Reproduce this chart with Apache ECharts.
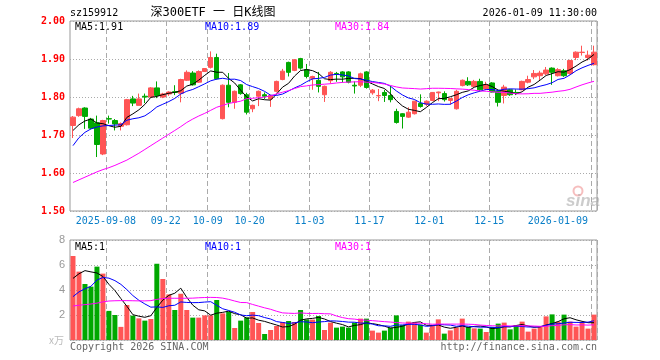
<!DOCTYPE html>
<html><head><meta charset="utf-8">
<script src="https://cdn.jsdelivr.net/npm/echarts@6/dist/echarts.min.js"></script>
<style>html,body{margin:0;padding:0;background:#fff}#c{width:660px;height:360px}</style>
</head><body><div id="c"></div>
<script>
const categories = [
'2025-08-29','2025-09-01','2025-09-02','2025-09-03','2025-09-04','2025-09-05',
'2025-09-08','2025-09-09','2025-09-10','2025-09-11','2025-09-12',
'2025-09-15','2025-09-16','2025-09-17','2025-09-18','2025-09-19',
'2025-09-22','2025-09-23','2025-09-24','2025-09-25','2025-09-26','2025-09-29','2025-09-30',
'2025-10-09','2025-10-10','2025-10-13','2025-10-14','2025-10-15','2025-10-16','2025-10-17',
'2025-10-20','2025-10-21','2025-10-22','2025-10-23','2025-10-24',
'2025-10-27','2025-10-28','2025-10-29','2025-10-30','2025-10-31',
'2025-11-03','2025-11-04','2025-11-05','2025-11-06','2025-11-07',
'2025-11-10','2025-11-11','2025-11-12','2025-11-13','2025-11-14',
'2025-11-17','2025-11-18','2025-11-19','2025-11-20','2025-11-21',
'2025-11-24','2025-11-25','2025-11-26','2025-11-27','2025-11-28',
'2025-12-01','2025-12-02','2025-12-03','2025-12-04','2025-12-05',
'2025-12-08','2025-12-09','2025-12-10','2025-12-11','2025-12-12',
'2025-12-15','2025-12-16','2025-12-17','2025-12-18','2025-12-19',
'2025-12-22','2025-12-23','2025-12-24','2025-12-25','2025-12-26',
'2025-12-29','2025-12-30','2025-12-31',
'2026-01-05','2026-01-06','2026-01-07','2026-01-08','2026-01-09'];

const opens = [1.725,1.751,1.771,1.742,1.732,1.650,1.743,1.738,1.723,1.727,
1.795,1.778,1.802,1.800,1.824,1.800,1.808,1.814,1.810,1.844,
1.863,1.839,1.867,1.878,1.904,1.743,1.831,1.786,1.832,1.806,
1.769,1.802,1.806,1.795,1.815,1.846,1.891,1.870,1.901,1.872,
1.849,1.844,1.806,1.843,1.862,1.866,1.866,1.831,1.831,1.866,
1.811,1.803,1.812,1.804,1.762,1.756,1.747,1.756,1.783,1.781,
1.791,1.811,1.809,1.791,1.769,1.830,1.841,1.828,1.841,1.821,
1.837,1.815,1.804,1.819,1.812,1.819,1.839,1.853,1.856,1.861,
1.876,1.856,1.869,1.862,1.904,1.917,1.904,1.885];
const closes = [1.747,1.769,1.749,1.718,1.675,1.738,1.742,1.729,1.730,1.793,
1.784,1.795,1.800,1.824,1.804,1.808,1.813,1.812,1.846,1.865,
1.832,1.867,1.875,1.904,1.848,1.831,1.786,1.815,1.809,1.760,
1.778,1.815,1.802,1.804,1.841,1.868,1.865,1.898,1.876,1.854,
1.854,1.828,1.828,1.865,1.860,1.853,1.839,1.829,1.861,1.825,
1.818,1.804,1.804,1.793,1.733,1.749,1.760,1.789,1.775,1.789,
1.812,1.813,1.793,1.796,1.815,1.844,1.832,1.841,1.819,1.832,
1.813,1.786,1.826,1.806,1.810,1.841,1.846,1.862,1.863,1.871,
1.865,1.872,1.856,1.896,1.918,1.918,1.910,1.918];
const lows = [1.692,1.748,1.716,1.715,1.642,1.647,1.730,1.712,1.712,1.725,
1.776,1.778,1.784,1.798,1.797,1.797,1.803,1.805,1.786,1.842,
1.830,1.837,1.866,1.875,1.846,1.741,1.773,1.769,1.806,1.754,
1.760,1.776,1.795,1.774,1.812,1.844,1.854,1.868,1.872,1.849,
1.819,1.812,1.787,1.835,1.840,1.838,1.836,1.809,1.826,1.822,
1.806,1.789,1.787,1.786,1.730,1.717,1.745,1.754,1.772,1.776,
1.789,1.789,1.788,1.780,1.767,1.828,1.829,1.826,1.815,1.819,
1.812,1.775,1.783,1.803,1.805,1.818,1.836,1.847,1.842,1.858,
1.832,1.854,1.853,1.859,1.897,1.909,1.896,1.883];
const highs = [1.750,1.772,1.773,1.745,1.751,1.740,1.751,1.742,1.733,1.795,
1.803,1.809,1.809,1.826,1.841,1.811,1.815,1.831,1.848,1.870,
1.868,1.870,1.876,1.920,1.914,1.833,1.863,1.817,1.834,1.811,
1.780,1.817,1.812,1.806,1.843,1.874,1.893,1.900,1.903,1.887,
1.856,1.866,1.830,1.868,1.866,1.868,1.868,1.841,1.864,1.868,
1.821,1.821,1.819,1.829,1.769,1.757,1.773,1.790,1.807,1.791,
1.813,1.814,1.815,1.797,1.819,1.846,1.852,1.845,1.848,1.840,
1.839,1.816,1.832,1.821,1.820,1.843,1.856,1.871,1.869,1.879,
1.878,1.876,1.874,1.898,1.920,1.935,1.922,1.935];
const volumes = [6.72,5.47,4.48,4.27,5.87,5.31,2.33,2.00,1.05,2.80,
1.95,1.73,1.55,1.68,6.10,4.88,3.65,2.40,3.70,2.40,
1.79,1.79,1.97,1.97,3.20,2.13,2.27,0.96,1.55,1.81,
2.24,1.36,0.48,0.80,1.12,1.44,1.52,1.44,2.40,1.65,
1.63,1.92,0.80,1.39,0.99,1.07,0.99,1.39,1.71,1.71,
0.75,0.59,0.75,0.99,1.97,1.20,1.47,1.39,1.23,0.59,
1.17,1.65,0.51,0.77,0.99,1.71,1.04,0.93,0.91,0.64,
1.04,1.31,1.39,0.85,1.20,1.47,0.67,0.91,1.04,1.89,
2.05,1.47,2.03,1.47,1.07,1.44,0.91,2.03];

const ma5Head = [1.712,1.727,1.737,1.742];
const ma10Head = [1.672,1.693,1.707,1.716,1.721,1.724,1.725,1.726,1.727];
const ma30Head = [1.575,1.582,1.589,1.596,1.603,1.609,1.614,1.620,1.627,1.634,
1.643,1.652,1.662,1.672,1.682,1.692,1.702,1.712,1.722,1.733,
1.742,1.750,1.757,1.765,1.773,1.778,1.783,1.786,1.789];
const volMa5Head = [4.93,5.30,5.55,5.45];
const volMa10Head = [3.47,3.85,4.10,4.30,4.80,5.00,4.95,4.75,4.45];
const volMa30Head = [2.72,2.78,2.83,2.88,2.95,3.05,3.12,3.14,3.15,3.15,
3.14,3.13,3.13,3.15,3.25,3.32,3.34,3.34,3.34,3.34,
3.35,3.38,3.40,3.41,3.40,3.35,3.25,3.12,3.00];

const labelDates = ['2025-09-08','2025-09-22','2025-10-09','2025-10-20','2025-11-03','2025-11-17','2025-12-01','2025-12-15','2026-01-09'];
const labelTexts = ['2025-09-08','09-22','10-09','10-20','11-03','11-17','12-01','12-15','2026-01-09'];

const UP = '#ff5555', DOWN = '#00a800';

function movingAvg(arr, n, head) {
  return arr.map((v, i) => {
    if (i < head.length) return head[i];
    let s = 0; for (let k = i - n + 1; k <= i; k++) s += arr[k];
    return +(s / n).toFixed(4);
  });
}

const candleData = opens.map((o, i) => [o, closes[i], lows[i], highs[i]]);
const volData = volumes.map((v, i) => ({value: v, itemStyle: {color: closes[i] >= opens[i] ? UP : DOWN}}));

const isLabel = (idx) => labelDates.indexOf(categories[idx]) >= 0;
const mono = '"DejaVu Sans Mono", monospace';

const chart = echarts.init(document.getElementById('c'), null, {renderer: 'canvas'});
const lineS = (name, data, color, xi) => ({
  name, type: 'line', data, xAxisIndex: xi, yAxisIndex: xi, showSymbol: false, symbol: 'none',
  lineStyle: {color, width: 1}, silent: true, z: 5, animation: false
});
const vsplit = {show: true, interval: (i) => isLabel(i), lineStyle: {color: '#aaa', type: [5, 3], width: 1}};

chart.setOption({
  animation: false,
  backgroundColor: '#fff',
  grid: [
    {left: 70, top: 21, width: 527, height: 190, show: true, borderColor: '#999', borderWidth: 1, backgroundColor: 'transparent'},
    {left: 70, top: 240, width: 527, height: 100, show: true, borderColor: '#999', borderWidth: 1, backgroundColor: 'transparent'}
  ],
  xAxis: [
    {type: 'category', data: categories, gridIndex: 0, boundaryGap: true,
     axisLine: {show: false}, axisTick: {show: false},
     axisLabel: {interval: (i) => isLabel(i), formatter: (v) => labelTexts[labelDates.indexOf(v)],
       color: '#0a7fc8', fontFamily: mono, fontSize: 10, margin: 5, padding: [0, 6, 0, 0], alignMaxLabel: 'right'},
     splitLine: vsplit},
    {type: 'category', data: categories, gridIndex: 1, boundaryGap: true,
     axisLine: {show: false}, axisTick: {show: false}, axisLabel: {show: false},
     splitLine: vsplit}
  ],
  yAxis: [
    {type: 'value', gridIndex: 0, min: 1.5, max: 2.0, interval: 0.1, position: 'left',
     axisLine: {show: false}, axisTick: {show: false},
     axisLabel: {color: '#ff0000', fontFamily: mono, fontSize: 10, fontWeight: 'bold', margin: 5, formatter: (v) => v.toFixed(2)},
     splitLine: {show: true, lineStyle: {color: '#aaa', type: [1, 2], width: 1}}},
    {type: 'value', gridIndex: 1, min: 0, max: 8, interval: 2, position: 'left',
     axisLine: {show: false}, axisTick: {show: false},
     axisLabel: {color: '#999', fontFamily: 'Liberation Sans, sans-serif', fontSize: 11, margin: 5, formatter: (v) => v === 0 ? '' : String(v)},
     splitLine: {show: true, lineStyle: {color: '#aaa', type: [1, 2], width: 1}}}
  ],
  series: [
    {name: 'K', type: 'candlestick', data: candleData, xAxisIndex: 0, yAxisIndex: 0, barWidth: 5,
     itemStyle: {color: UP, color0: DOWN, borderColor: UP, borderColor0: DOWN, borderWidth: 1}, silent: true},
    lineS('MA5', movingAvg(closes, 5, ma5Head), '#000000', 0),
    lineS('MA10', movingAvg(closes, 10, ma10Head), '#0000ff', 0),
    lineS('MA30', movingAvg(closes, 30, ma30Head), '#ff00ff', 0),
    {name: 'VOL', type: 'bar', data: volData, xAxisIndex: 1, yAxisIndex: 1, barWidth: 5, silent: true},
    lineS('VMA5', movingAvg(volumes, 5, volMa5Head), '#000000', 1),
    lineS('VMA10', movingAvg(volumes, 10, volMa10Head), '#0000ff', 1),
    lineS('VMA30', movingAvg(volumes, 30, volMa30Head), '#ff00ff', 1)
  ],
  graphic: [
    {type: 'text', x: 70, y: 13, style: {text: 'sz159912', fill: '#000', font: '10px ' + mono, verticalAlign: 'middle'}},
    {type: 'text', x: 213, y: 13, style: {text: '深300ETF 一 日K线图', fill: '#000', font: '12px "DejaVu Sans Mono", "Noto Sans CJK SC", sans-serif', align: 'center', verticalAlign: 'middle'}},
    {type: 'text', x: 597, y: 13, style: {text: '2026-01-09 11:30:00', fill: '#000', font: '10px ' + mono, align: 'right', verticalAlign: 'middle'}},
    {type: 'text', x: 75, y: 27, z: 10, style: {text: 'MA5:1.91', fill: '#000', font: '10px ' + mono, verticalAlign: 'middle'}},
    {type: 'text', x: 205, y: 27, z: 10, style: {text: 'MA10:1.89', fill: '#0000ff', font: '10px ' + mono, verticalAlign: 'middle'}},
    {type: 'text', x: 335, y: 27, z: 10, style: {text: 'MA30:1.84', fill: '#ff00ff', font: '10px ' + mono, verticalAlign: 'middle'}},
    {type: 'text', x: 75, y: 247, z: 10, style: {text: 'MA5:1', fill: '#000', font: '10px ' + mono, verticalAlign: 'middle'}},
    {type: 'text', x: 205, y: 247, z: 10, style: {text: 'MA10:1', fill: '#0000ff', font: '10px ' + mono, verticalAlign: 'middle'}},
    {type: 'text', x: 335, y: 247, z: 10, style: {text: 'MA30:1', fill: '#ff00ff', font: '10px ' + mono, verticalAlign: 'middle'}},
    {type: 'text', x: 70, y: 347, style: {text: 'Copyright 2026 SINA.COM', fill: '#666', font: '10px ' + mono, verticalAlign: 'middle'}},
    {type: 'text', x: 597, y: 347, style: {text: 'http://finance.sina.com.cn', fill: '#666', font: '10px ' + mono, align: 'right', verticalAlign: 'middle'}},
    {type: 'text', x: 64, y: 340, style: {text: 'x万', fill: '#bbb', font: '10px "Noto Sans CJK SC", sans-serif', align: 'right', verticalAlign: 'middle'}},
    {type: 'circle', shape: {cx: 578, cy: 191, r: 4.5}, style: {fill: 'none', stroke: 'rgba(235,110,110,0.45)', lineWidth: 2}, z: 1},
    {type: 'text', x: 566, y: 201, z: 1, style: {text: 'sina', fill: 'rgba(170,170,170,0.6)', font: 'italic bold 17px "Liberation Sans", sans-serif', verticalAlign: 'middle'}}
  ]
});
</script></body></html>
